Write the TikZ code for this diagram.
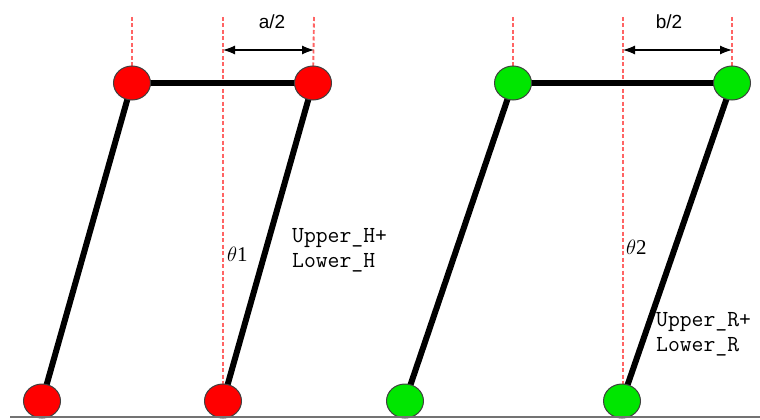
\documentclass[tikz,border=0pt]{standalone}
\usepackage{fontspec}
\setmainfont{Liberation Serif}
\setmonofont{Latin Modern Mono}
\newfontfamily\arialfont{Liberation Sans}
\usetikzlibrary{shapes.geometric,arrows.meta,backgrounds}
\definecolor{redball}{RGB}{255,0,0}
\definecolor{greenball}{RGB}{0,230,0}
\definecolor{dashred}{RGB}{255,100,100}
\tikzset{
  joint/.style={ellipse,draw=black!75,line width=1pt,minimum width=37pt,minimum height=34pt,inner sep=0pt},
  rj/.style={joint,fill=redball},
  gj/.style={joint,fill=greenball},
  leg/.style={line width=6pt,black},
  guide/.style={dashred,line width=1.9pt,dash pattern=on 4pt off 2.5pt},
  dim/.style={line width=1.1pt,{Latex[length=12pt,width=9pt]}-{Latex[length=12pt,width=9pt]}},
  mlabel/.style={font=\ttfamily\fontsize{23}{25}\selectfont,align=left,inner sep=0pt,anchor=west},
  dlabel/.style={font=\arialfont\fontsize{19}{21}\selectfont,inner sep=0pt},
  thlabel/.style={font=\fontsize{21}{23}\selectfont,inner sep=0pt}
}
\begin{document}
\begin{tikzpicture}[x=1pt,y=-1pt]
\useasboundingbox (0,0) rectangle (760,420);
% joints
\node[rj] (r1) at (132,83) {};
\node[rj] (r2) at (313,83) {};
\node[rj] (r3) at (42,401) {};
\node[rj] (r4) at (223,401) {};
\node[gj] (g1) at (513,83) {};
\node[gj] (g2) at (732,83) {};
\node[gj] (g3) at (405,401) {};
\node[gj] (g4) at (622,401) {};
% guide coordinates
\coordinate (ra) at (132,17);
\coordinate (rb) at (223,17);
\coordinate (rc) at (314,17);
\coordinate (ga) at (513,17);
\coordinate (gb) at (623,17);
\coordinate (gc) at (732,17);
\coordinate (rbb) at (223,390);
\coordinate (gbb) at (623,390);
\coordinate (rd1) at (223,50);
\coordinate (rd2) at (314,50);
\coordinate (gd1) at (623,50);
\coordinate (gd2) at (732,50);
\coordinate (gl) at (10,417);
\coordinate (gr) at (760,417);
\begin{scope}[on background layer]
\draw[guide] (ra) -- (r1.center);
\draw[guide] (rc) -- (r2.center);
\draw[guide] (rb) -- (rbb);
\draw[guide] (ga) -- (g1.center);
\draw[guide] (gc) -- (g2.center);
\draw[guide] (gb) -- (gbb);
\draw[leg] (r1.center) -- (r2.center);
\draw[leg] (r1.center) -- (r3.center);
\draw[leg] (r2.center) -- (r4.center);
\draw[leg] (g1.center) -- (g2.center);
\draw[leg] (g1.center) -- (g3.center);
\draw[leg] (g2.center) -- (g4.center);
\end{scope}
\draw[black!55,line width=2pt] (gl) -- (gr);
\draw[dim] (rd1) -- (rd2);
\draw[dim] (gd1) -- (gd2);
\node[dlabel] (la) at (272,22) {a/2};
\node[dlabel] (lb) at (669,22) {b/2};
\node[thlabel,anchor=west] (t1) at (227,254) {$\theta$1};
\node[thlabel,anchor=west] (t2) at (626,247) {$\theta$2};
\node[mlabel] (uh) at (292,250) {Upper\_H+\\Lower\_H};
\node[mlabel] (ur) at (656,334) {Upper\_R+\\Lower\_R};
\end{tikzpicture}
\end{document}
